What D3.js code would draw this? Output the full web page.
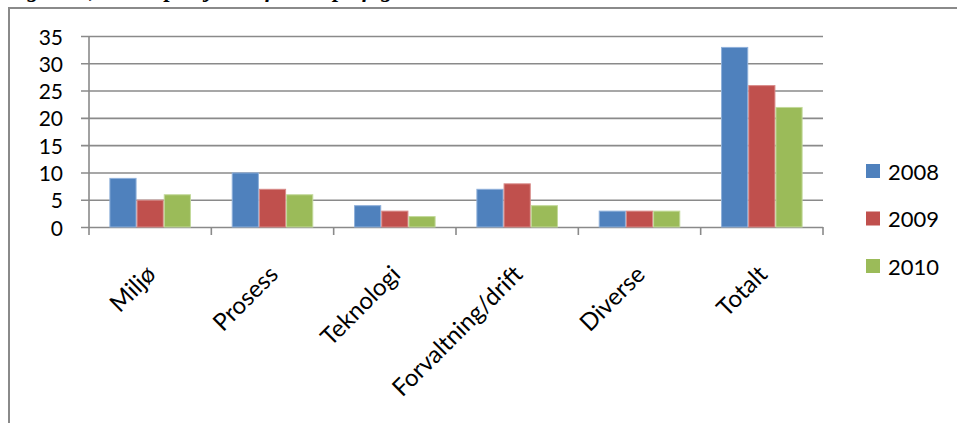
<!DOCTYPE html>
<html>
<head>
<meta charset="utf-8">
<script src="https://cdn.jsdelivr.net/npm/d3@7/dist/d3.min.js"></script>
<style>
  html, body { margin: 0; padding: 0; background: #fff; }
  svg { display: block; }
</style>
</head>
<body>
<svg id="chart" width="957" height="423"></svg>
<script>
const categories = ["Miljø", "Prosess", "Teknologi", "Forvaltning/drift", "Diverse", "Totalt"];
const years = ["2008", "2009", "2010"];
const values2008 = [9, 10, 4, 7, 3, 33];
const values2009 = [5, 7, 3, 8, 3, 26];
const values2010 = [6, 6, 2, 4, 3, 22];
const yTicks = [0, 5, 10, 15, 20, 25, 30, 35];
const colors = ["#4F81BD", "#C0504D", "#9BBB59"];
const strokes = ["#8FB0DA", "#D88A88", "#C2D99A"];
const titleText = "Figur 12, Antall prosjekter fordelt på fagområde";

const series = [values2008, values2009, values2010];
const svg = d3.select("#chart");
const font = "Lato, 'Open Sans', sans-serif";

// frame
svg.append("path")
  .attr("d", "M9,423 V8 H957")
  .attr("fill", "none").attr("stroke", "#8a8a8a").attr("stroke-width", 2);

// clipped caption (only descenders visible, as in the reference)
svg.append("text")
  .attr("x", 6).attr("y", -3)
  .attr("font-family", "'Liberation Serif', 'DejaVu Serif', serif")
  .attr("font-style", "italic").attr("font-weight", "bold")
  .attr("font-size", 23)
  .attr("fill", "#000")
  .text(titleText);

const x = d3.scaleBand().domain(categories).range([89, 823]).paddingInner(0).paddingOuter(0);
const xs = d3.scaleBand().domain(years).range([0, x.bandwidth()]).paddingInner(0).paddingOuter(0.75);
const y = d3.scaleLinear().domain([0, 35]).range([227, 36]);

// gridlines + y ticks
const yAxis = d3.axisLeft(y).tickValues(yTicks).tickSize(-(823 - 81)).tickFormat("");
const gy = svg.append("g").attr("transform", "translate(81,0)").call(yAxis);
gy.select(".domain").remove();
gy.selectAll(".tick line")
  .attr("x1", 0).attr("x2", 823 - 81)
  .attr("stroke", "#8a8a8a").attr("stroke-width", 1.6);

// y tick labels
svg.append("g").selectAll("text").data(yTicks).join("text")
  .attr("x", 63).attr("y", d => y(d))
  .attr("text-anchor", "end").attr("dominant-baseline", "central")
  .attr("font-family", font).attr("font-size", 21).attr("fill", "#000")
  .text(d => d);

// y axis line
svg.append("line")
  .attr("x1", 89).attr("x2", 89).attr("y1", y(35)).attr("y2", 235)
  .attr("stroke", "#8a8a8a").attr("stroke-width", 1.6);

// x ticks at band edges
const edges = categories.map(c => x(c)).concat([x(categories[categories.length - 1]) + x.bandwidth()]);
svg.append("g").selectAll("line").data(edges.slice(1)).join("line")
  .attr("x1", d => d).attr("x2", d => d).attr("y1", 227).attr("y2", 235)
  .attr("stroke", "#8a8a8a").attr("stroke-width", 1.6);

// bars
const groups = svg.append("g").selectAll("g").data(categories).join("g")
  .attr("transform", c => `translate(${x(c)},0)`);
groups.selectAll("rect")
  .data((c, i) => years.map((yr, j) => ({ yr, j, v: series[j][i] })))
  .join("rect")
  .attr("x", d => xs(d.yr) + 0.5)
  .attr("width", xs.bandwidth() - 1)
  .attr("y", d => y(d.v) + 0.5)
  .attr("height", d => y(0) - y(d.v) - 0.5)
  .attr("fill", d => colors[d.j])
  .attr("stroke", d => strokes[d.j])
  .attr("stroke-width", 1);

// category labels
svg.append("g").selectAll("text").data(categories).join("text")
  .attr("transform", c => `translate(${x(c) + x.bandwidth() / 2 + 7},276) rotate(-45)`)
  .attr("text-anchor", "end")
  .attr("font-family", font).attr("font-size", 24).attr("fill", "#000")
  .text(c => c);

// legend
const legend = svg.append("g").selectAll("g").data(years).join("g")
  .attr("transform", (d, i) => `translate(866,${171 + i * 47.5})`);
legend.append("rect")
  .attr("x", 0).attr("y", -7).attr("width", 14).attr("height", 14)
  .attr("fill", (d, i) => colors[i]);
legend.append("text")
  .attr("x", 22).attr("y", 0)
  .attr("dominant-baseline", "central")
  .attr("font-family", font).attr("font-size", 22).attr("fill", "#000")
  .text(d => d);
</script>
</body>
</html>
